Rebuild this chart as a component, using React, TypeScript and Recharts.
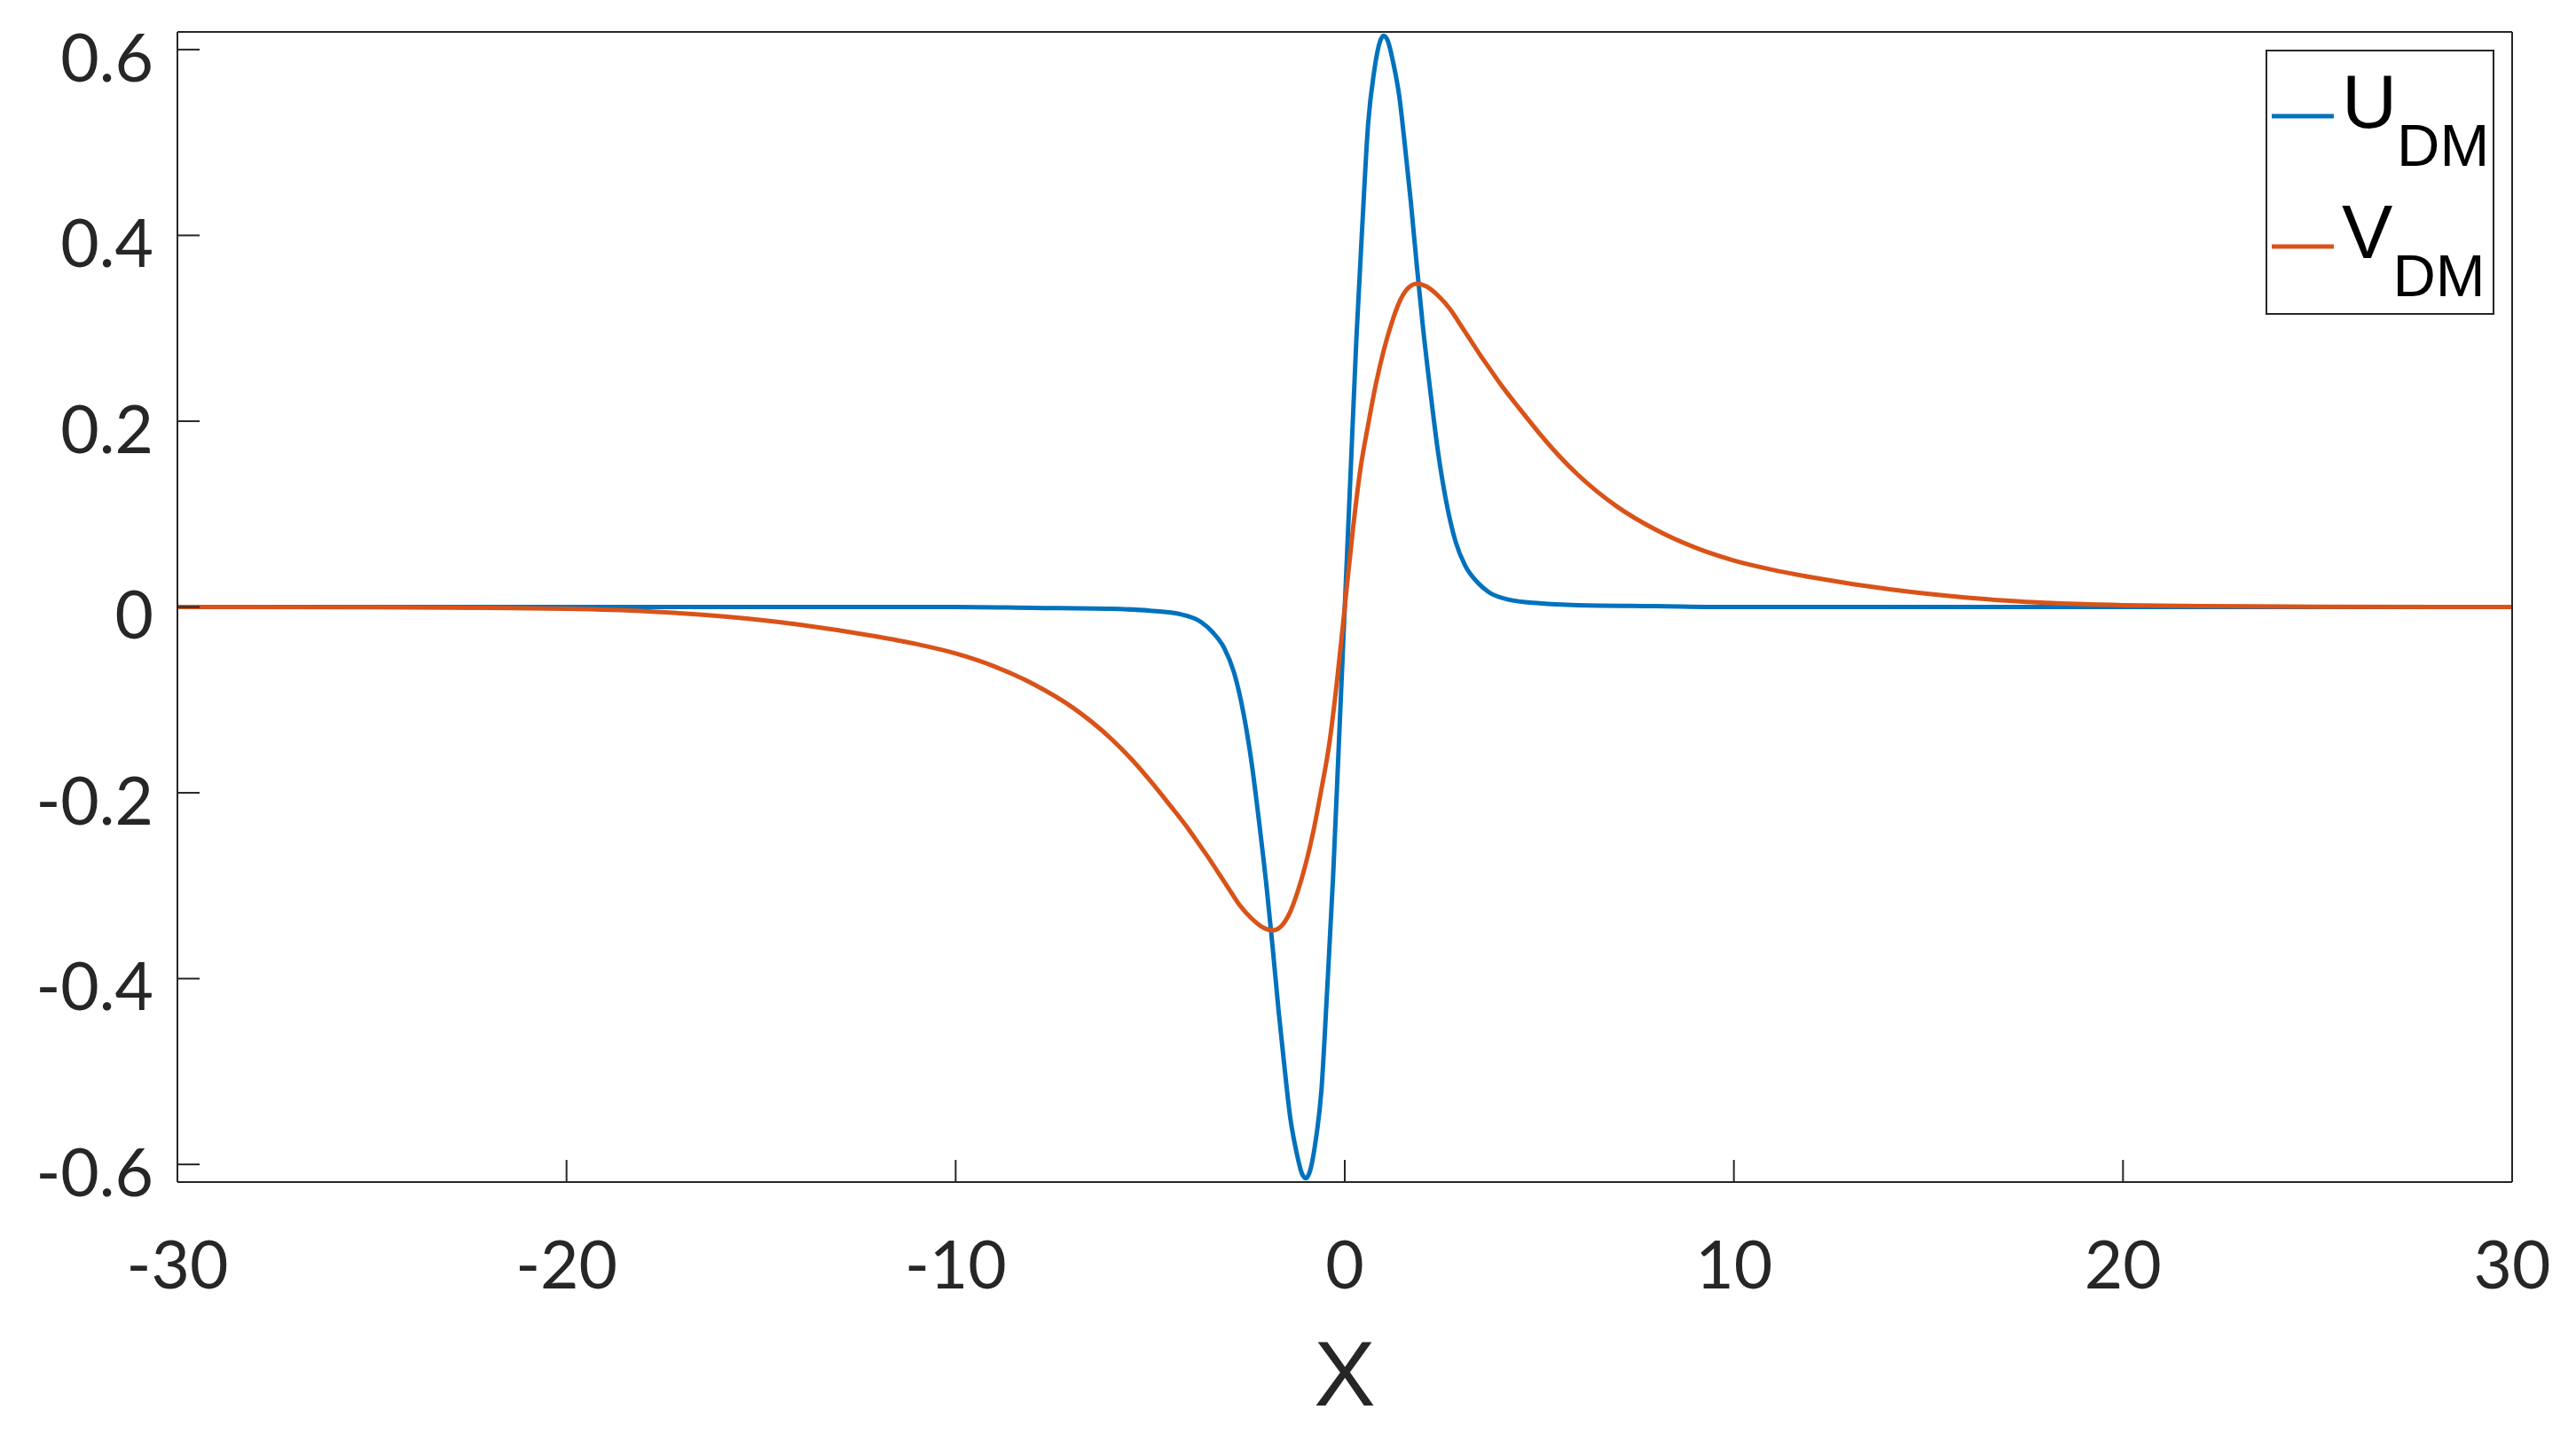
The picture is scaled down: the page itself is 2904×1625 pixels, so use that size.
import { LineChart, Line, XAxis, YAxis, Legend, Label } from 'recharts'

// values
const U_X = [
  -30, -20, -10, -8, -6, -5, -4.2, -3.7, -3.4, -3.1, -2.85, -2.6, -2.4, -2.2, -2, -1.85, -1.7, -1.55, -1.4, -1.25,
  -1.1, -1, -0.9, -0.75, -0.6, -0.45, -0.3, -0.15, 0, 0.15, 0.3, 0.45, 0.6, 0.75, 0.9, 1, 1.1, 1.25, 1.4, 1.55,
  1.7, 1.85, 2, 2.2, 2.4, 2.6, 2.85, 3.1, 3.4, 3.7, 4.2, 5, 6, 8, 10, 20, 30,
]
const U_Y = [
  0, 0, 0, -0.001, -0.002, -0.004, -0.008, -0.016, -0.027, -0.044, -0.07, -0.115, -0.166, -0.232, -0.305, -0.368,
  -0.435, -0.495, -0.55, -0.585, -0.61, -0.615, -0.608, -0.575, -0.52, -0.41, -0.29, -0.145, 0, 0.145, 0.29, 0.41,
  0.52, 0.575, 0.608, 0.615, 0.61, 0.585, 0.55, 0.495, 0.435, 0.368, 0.305, 0.232, 0.166, 0.115, 0.07, 0.044, 0.027,
  0.016, 0.008, 0.004, 0.002, 0.001, 0, 0, 0,
]

const V_X = [
  -30, -25, -22, -20, -18, -16, -14, -12, -11, -10, -9, -8, -7, -6, -5.5, -5, -4.5, -4, -3.75, -3.5, -3.25, -3,
  -2.7, -2.4, -2.1, -1.85, -1.6, -1.4, -1.2, -1, -0.8, -0.6, -0.4, -0.2, 0, 0.2, 0.4, 0.6, 0.8, 1, 1.2, 1.4, 1.6,
  1.85, 2.1, 2.4, 2.7, 3, 3.25, 3.5, 3.75, 4, 4.5, 5, 5.5, 6, 7, 8, 9, 10, 11, 12, 14, 16, 18, 20, 22, 25, 30,
]
const V_Y = [
  0, -0.0003, -0.001, -0.002, -0.0045, -0.01, -0.019, -0.032, -0.04, -0.05, -0.064, -0.083, -0.108, -0.142, -0.163,
  -0.187, -0.213, -0.24, -0.255, -0.27, -0.286, -0.302, -0.321, -0.335, -0.345, -0.348, -0.342, -0.328, -0.305,
  -0.276, -0.24, -0.196, -0.148, -0.08, 0, 0.08, 0.148, 0.196, 0.24, 0.276, 0.305, 0.328, 0.342, 0.348, 0.345, 0.335,
  0.321, 0.302, 0.286, 0.27, 0.255, 0.24, 0.213, 0.187, 0.163, 0.142, 0.108, 0.083, 0.064, 0.05, 0.04, 0.032, 0.019,
  0.01, 0.0045, 0.002, 0.001, 0.0003, 0,
]

const X_TICKS = [-30, -20, -10, 0, 10, 20, 30]
const Y_TICKS = [-0.6, -0.4, -0.2, 0, 0.2, 0.4, 0.6]

const SERIES = [
  { key: 'u', base: 'U', sub: 'DM', color: '#0072BD', xs: U_X, ys: U_Y },
  { key: 'v', base: 'V', sub: 'DM', color: '#D95319', xs: V_X, ys: V_Y },
]

const AXIS = '#262626'
const TICK_FONT = 'Lato, "Open Sans", sans-serif'
const TEXT_FONT = '"Liberation Sans", Arial, sans-serif'

const axisLine = { stroke: AXIS, strokeWidth: 2 }
const tickLine = { stroke: AXIS, strokeWidth: 2 }

function LegendBox() {
  return (
    <svg width={258} height={299} style={{ display: 'block' }}>
      <rect x={1} y={1} width={256} height={297} fill="#fff" stroke={AXIS} strokeWidth={2} />
      {SERIES.map((s, i) => {
        const y = 75 + i * 147
        return (
          <g key={s.key}>
            <line x1={7} x2={77} y1={y} y2={y} stroke={s.color} strokeWidth={5} />
            <text x={86} y={y + 13} fontSize={86} fontFamily={TEXT_FONT} fill="#000">
              {s.base}
              <tspan fontSize={67} dy={43}>
                {s.sub}
              </tspan>
            </text>
          </g>
        )
      })}
    </svg>
  )
}

export default function App() {
  return (
    <div style={{ position: 'absolute', left: 0, top: 0, width: 2904, height: 1625, background: '#fff' }}>
      <LineChart width={2904} height={1625} margin={{ top: 35, right: 71, bottom: 32, left: 10 }}>
        <XAxis
          dataKey="x"
          type="number"
          domain={[-30, 30]}
          ticks={X_TICKS}
          allowDataOverflow
          height={260}
          axisLine={axisLine}
          tickLine={tickLine}
          tickSize={-25}
          tickMargin={92}
          tick={{ fontSize: 75, fill: AXIS, fontFamily: TICK_FONT }}
        >
          <Label value="X" position="insideBottom" offset={8} fontSize={104} fill={AXIS} fontFamily={TEXT_FONT} />
        </XAxis>
        <XAxis
          xAxisId="top"
          orientation="top"
          dataKey="x"
          type="number"
          domain={[-30, 30]}
          ticks={X_TICKS}
          allowDataOverflow
          height={1}
          axisLine={axisLine}
          tickLine={tickLine}
          tickSize={-25}
          tick={false}
        />
        <YAxis
          yAxisId="left"
          type="number"
          domain={[-0.619, 0.619]}
          ticks={Y_TICKS}
          allowDataOverflow
          width={190}
          axisLine={axisLine}
          tickLine={tickLine}
          tickSize={-25}
          tickMargin={52}
          tickFormatter={(v: number) => String(v)}
          tick={{ fontSize: 75, fill: AXIS, fontFamily: TICK_FONT, dy: 9 }}
        />
        <YAxis
          yAxisId="right"
          orientation="right"
          type="number"
          domain={[-0.619, 0.619]}
          ticks={Y_TICKS}
          allowDataOverflow
          width={1}
          axisLine={axisLine}
          tickLine={tickLine}
          tickSize={-25}
          tick={false}
        />
        {SERIES.map((s) => (
          <Line
            key={s.key}
            yAxisId="left"
            data={s.xs.map((x, i) => ({ x, y: s.ys[i] }))}
            dataKey="y"
            name={s.base + s.sub}
            type="monotone"
            stroke={s.color}
            strokeWidth={5}
            dot={false}
            isAnimationActive={false}
          />
        ))}
        <Legend
          layout="vertical"
          align="center"
          verticalAlign="middle"
          wrapperStyle={{ left: 2554, top: 56, width: 258, height: 299 }}
          content={() => <LegendBox />}
        />
      </LineChart>
    </div>
  )
}
